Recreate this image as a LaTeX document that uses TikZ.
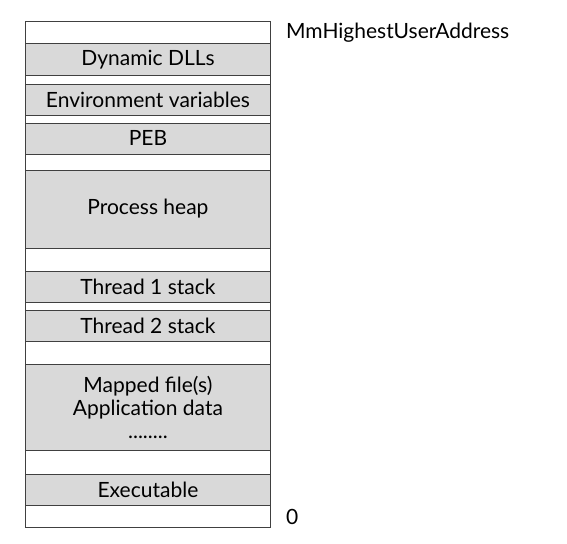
\documentclass[tikz,border=0pt]{standalone}
\usepackage{fontspec}
\setmainfont{Lato}
\usetikzlibrary{positioning}
\definecolor{regiongray}{HTML}{D9D9D9}
\definecolor{edgegray}{HTML}{404040}
\tikzset{
  region/.style={draw=edgegray, line width=0.9pt, fill=regiongray, anchor=north west,
    minimum width=245pt, inner sep=0pt, align=center,
    font=\fontsize{21}{23}\selectfont},
  addr/.style={anchor=west, inner sep=0pt, font=\fontsize{21}{23}\selectfont}
}

\begin{document}
\begin{tikzpicture}[x=1pt, y=-1pt]
  \useasboundingbox (0,0) rectangle (567,543);
  % whole user address space
  \node[draw=edgegray, line width=0.9pt, anchor=north west, minimum width=245pt,
    minimum height=506pt, inner sep=0pt] (space) at (25,21) {};
  % regions, top to bottom
  \foreach \name/\top/\h/\txt in {
      dll/43.5/31/{Dynamic DLLs},
      env/83.5/31/{Environment variables},
      peb/122.5/31/{PEB},
      heap/169.5/78/{Process heap},
      thra/271/31/{Thread 1 stack},
      thrb/309.5/31/{Thread 2 stack},
      mapped/364/86/{Mapped file(s)\\Application data\\........},
      exe/473.5/31/{Executable}}
    \node[region, minimum height=\h pt] (\name) at (25,\top) {\txt};
  % address labels
  \node[addr] (high) at ([xshift=15pt, yshift=-12pt]space.north east) {MmHighestUserAddress};
  \node[addr] (zero) at ([xshift=15pt, yshift=11pt]space.south east) {0};
\end{tikzpicture}
\end{document}
